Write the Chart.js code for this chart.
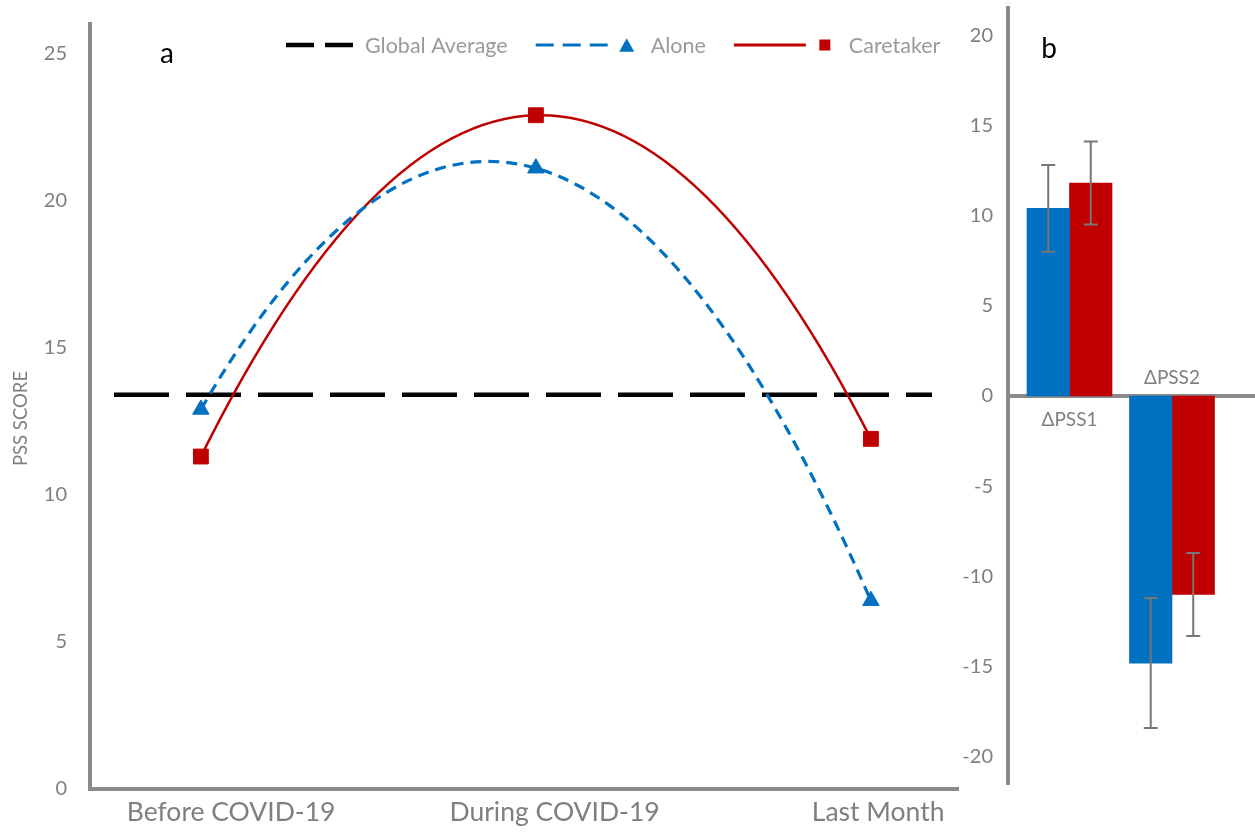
<!DOCTYPE html>
<html>
<head>
<meta charset="utf-8">
<script src="https://cdn.jsdelivr.net/npm/chart.js@4/dist/chart.umd.min.js"></script>
<style>
  html, body { margin: 0; padding: 0; background: #fff; }
  #wrap { position: relative; width: 1255px; height: 832px; overflow: hidden; background: #fff; }
  #leftBox { position: absolute; left: 0; top: 0; width: 960px; height: 832px; }
  #rightBox { position: absolute; left: 955px; top: 0; width: 300px; height: 832px; }
</style>
</head>
<body>
<div id="wrap">
  <div id="leftBox"><canvas id="left" width="960" height="832"></canvas></div>
  <div id="rightBox"><canvas id="right" width="300" height="832"></canvas></div>
</div>
<script>
// ---- Panel a: PSS score per period ----
const periods = ['Before COVID-19', 'During COVID-19', 'Last Month'];
const aloneScores = [12.9, 21.1, 6.4];
const caretakerScores = [11.3, 22.9, 11.9];
const globalAverage = 13.4;
const pssTicks = [0, 5, 10, 15, 20, 25];

// ---- Panel b: change in PSS score ----
const deltaLabels = ['ΔPSS1', 'ΔPSS2'];
const aloneDelta = [10.4, -14.8];
const aloneDeltaErr = [2.4, 3.6];
const caretakerDelta = [11.8, -11.0];
const caretakerDeltaErr = [2.3, 2.3];
const deltaTicks = [-20, -15, -10, -5, 0, 5, 10, 15, 20];

const FONT = 'Lato, "Liberation Sans", sans-serif';
const AXIS_GREY = '#8a8a8a';
const TEXT_GREY = '#7f7f7f';
const LEGEND_GREY = '#9a9a9a';
const BLUE = '#0070C0';
const RED = '#C00000';

const toPoints = vals => vals.map((v, i) => ({ x: i, y: v }));

function drawMarker(ctx, style, x, y, size, color) {
  ctx.save();
  ctx.fillStyle = color;
  ctx.beginPath();
  if (style === 'triangle') {
    const h = size * 0.9;
    ctx.moveTo(x, y - h / 2);
    ctx.lineTo(x + size / 2, y + h / 2);
    ctx.lineTo(x - size / 2, y + h / 2);
    ctx.closePath();
  } else {
    ctx.rect(x - size / 2, y - size / 2, size, size);
  }
  ctx.fill();
  ctx.restore();
}

// Smoothed curves: Catmull-Rom tangents inside, quadratic end conditions
const smoothCurves = {
  id: 'smoothCurves',
  beforeDatasetsDraw(chart) {
    chart.data.datasets.forEach((ds, di) => {
      const meta = chart.getDatasetMeta(di);
      if (meta.type !== 'line' || !meta.dataset) return;
      const pts = meta.data;
      const n = pts.length;
      if (n < 3) return;
      const m = [];
      for (let i = 1; i < n - 1; i++) {
        m[i] = { x: (pts[i + 1].x - pts[i - 1].x) / 2, y: (pts[i + 1].y - pts[i - 1].y) / 2 };
      }
      m[0] = { x: 2 * (pts[1].x - pts[0].x) - m[1].x, y: 2 * (pts[1].y - pts[0].y) - m[1].y };
      m[n - 1] = { x: 2 * (pts[n - 1].x - pts[n - 2].x) - m[n - 2].x, y: 2 * (pts[n - 1].y - pts[n - 2].y) - m[n - 2].y };
      pts.forEach((p, i) => {
        p.cp1x = p.x - m[i].x / 3; p.cp1y = p.y - m[i].y / 3;
        p.cp2x = p.x + m[i].x / 3; p.cp2y = p.y + m[i].y / 3;
      });
      meta.dataset._pointsUpdated = true;
      delete meta.dataset._path;
    });
  }
};

// Extra drawing for panel a: average line, legend, panel letter, axis title
const panelA = {
  id: 'panelA',
  beforeDatasetsDraw(chart) {
    const { ctx, chartArea, scales } = chart;
    const y = scales.y.getPixelForValue(globalAverage);
    ctx.save();
    ctx.strokeStyle = '#000';
    ctx.lineWidth = 4.5;
    ctx.setLineDash([55, 17]);
    ctx.beginPath();
    ctx.moveTo(chartArea.left + 24, y);
    ctx.lineTo(chartArea.right - 26, y);
    ctx.stroke();
    ctx.restore();
  },
  afterDraw(chart) {
    const { ctx, chartArea } = chart;
    ctx.save();
    // legend
    const items = [
      { label: 'Global Average', color: '#000', width: 4.5, dash: [28, 11], marker: null },
      { label: 'Alone', color: BLUE, width: 3, dash: [18, 9], marker: 'triangle', mSize: 15 },
      { label: 'Caretaker', color: RED, width: 3, dash: [], marker: 'rect', mSize: 11 }
    ];
    const ly = 45;
    let x = 286;
    ctx.font = '21.5px ' + FONT;
    ctx.textBaseline = 'middle';
    ctx.textAlign = 'left';
    items.forEach(it => {
      const len = it.marker ? 72 : 68;
      ctx.strokeStyle = it.color;
      ctx.lineWidth = it.width;
      ctx.setLineDash(it.dash);
      ctx.beginPath();
      ctx.moveTo(x, ly);
      ctx.lineTo(x + len, ly);
      ctx.stroke();
      ctx.setLineDash([]);
      let tx = x + len + 11;
      if (it.marker) {
        drawMarker(ctx, it.marker, x + len + 19, ly, it.mSize, it.color);
        tx = x + len + 43;
      }
      ctx.fillStyle = LEGEND_GREY;
      ctx.fillText(it.label, tx, ly + 1);
      x = tx + ctx.measureText(it.label).width + 28;
    });
    // panel letter
    ctx.fillStyle = '#000';
    ctx.font = '28px ' + FONT;
    ctx.textAlign = 'center';
    ctx.fillText('a', 167, 54);
    // axis title
    ctx.translate(21, (chartArea.top + chartArea.bottom) / 2 + 12);
    ctx.rotate(-Math.PI / 2);
    ctx.fillStyle = TEXT_GREY;
    ctx.font = '18.5px ' + FONT;
    ctx.fillText('PSS SCORE', 0, 0);
    ctx.restore();
  }
};

// Extra drawing for panel b: error bars, category labels, panel letter
const panelB = {
  id: 'panelB',
  afterDatasetsDraw(chart) {
    const { ctx, scales } = chart;
    ctx.save();
    ctx.strokeStyle = '#767676';
    ctx.lineWidth = 2;
    chart.data.datasets.forEach((ds, di) => {
      const meta = chart.getDatasetMeta(di);
      meta.data.forEach((bar, j) => {
        const v = ds.data[j].y;
        const e = ds.errors[j];
        const y1 = scales.y.getPixelForValue(v + e);
        const y2 = scales.y.getPixelForValue(v - e);
        ctx.beginPath();
        ctx.moveTo(bar.x, y1); ctx.lineTo(bar.x, y2);
        ctx.moveTo(bar.x - 7, y1); ctx.lineTo(bar.x + 7, y1);
        ctx.moveTo(bar.x - 7, y2); ctx.lineTo(bar.x + 7, y2);
        ctx.stroke();
      });
    });
    ctx.restore();
  },
  afterDraw(chart) {
    const { ctx, scales } = chart;
    const y0 = scales.y.getPixelForValue(0);
    ctx.save();
    ctx.font = '19px ' + FONT;
    ctx.fillStyle = TEXT_GREY;
    ctx.textAlign = 'center';
    ctx.textBaseline = 'middle';
    deltaLabels.forEach((lab, j) => {
      const positive = chart.data.datasets.every(ds => ds.data[j].y >= 0);
      const x = scales.x.getPixelForValue(j);
      ctx.fillText(lab, x, positive ? y0 + 24 : y0 - 18);
    });
    ctx.fillStyle = '#000';
    ctx.font = '28px ' + FONT;
    ctx.fillText('b', 94, 49);
    ctx.restore();
  }
};

function build() {
  new Chart(document.getElementById('left'), {
    type: 'line',
    data: {
      datasets: [
        {
          label: 'Alone', data: toPoints(aloneScores), xAxisID: 'x', yAxisID: 'y',
          borderColor: BLUE, backgroundColor: BLUE, borderWidth: 3.2, borderDash: [11, 7],
          pointStyle: 'triangle', pointRadius: 9.5, pointBackgroundColor: BLUE, pointBorderColor: BLUE,
          pointBorderWidth: 1, tension: 0.5, fill: false
        },
        {
          label: 'Caretaker', data: toPoints(caretakerScores), xAxisID: 'x', yAxisID: 'y',
          borderColor: RED, backgroundColor: RED, borderWidth: 2.5,
          pointStyle: 'rect', pointRadius: 10.5, pointBackgroundColor: RED, pointBorderColor: RED,
          pointBorderWidth: 1, tension: 0.5, fill: false
        }
      ]
    },
    options: {
      responsive: false,
      animation: false,
      devicePixelRatio: 1,
      layout: { autoPadding: false, padding: { top: 24, right: 2, left: 0, bottom: 0 } },
      plugins: { legend: { display: false }, tooltip: { enabled: false } },
      scales: {
        x: { type: 'linear', display: false, min: -0.331, max: 2.26 },
        xl: {
          type: 'linear', axis: 'x', position: 'bottom', min: -0.436, max: 2.247,
          grid: { display: false, drawTicks: false },
          border: { display: true, color: AXIS_GREY, width: 4 },
          afterBuildTicks: s => { s.ticks = periods.map((_, i) => ({ value: i })); },
          ticks: {
            callback: v => periods[v], font: { family: FONT, size: 26.5 }, color: TEXT_GREY,
            padding: 8, maxRotation: 0, autoSkip: false
          },
          afterFit: s => { s.height = 43; s.paddingLeft = 0; s.paddingRight = 0; }
        },
        y: {
          type: 'linear', min: 0, max: 26,
          afterBuildTicks: s => { s.ticks = pssTicks.map(v => ({ value: v })); },
          grid: { display: false, drawTicks: false },
          border: { display: true, color: AXIS_GREY, width: 4 },
          ticks: { font: { family: FONT, size: 20 }, color: TEXT_GREY, padding: 23 },
          afterFit: s => { s.width = 90; s.paddingTop = 0; s.paddingBottom = 0; }
        }
      }
    },
    plugins: [smoothCurves, panelA]
  });

  new Chart(document.getElementById('right'), {
    type: 'bar',
    data: {
      datasets: [
        { label: 'Alone', data: toPoints(aloneDelta), errors: aloneDeltaErr, backgroundColor: BLUE, barThickness: 42.5 },
        { label: 'Caretaker', data: toPoints(caretakerDelta), errors: caretakerDeltaErr, backgroundColor: RED, barThickness: 42.5 }
      ]
    },
    options: {
      responsive: false,
      animation: false,
      devicePixelRatio: 1,
      layout: { autoPadding: false, padding: { top: 8, right: 0, left: 0, bottom: 48 } },
      plugins: { legend: { display: false }, tooltip: { enabled: false } },
      scales: {
        x: {
          type: 'linear', min: -0.6, max: 1.81, offset: false, position: { y: 0 }, z: 1,
          grid: { display: false, drawTicks: false, offset: false },
          border: { display: true, color: AXIS_GREY, width: 4 },
          ticks: { display: false },
          afterFit: s => { s.height = 0; s.paddingLeft = 0; s.paddingRight = 0; }
        },
        y: {
          type: 'linear', min: -21.5, max: 21.5,
          afterBuildTicks: s => { s.ticks = deltaTicks.map(v => ({ value: v })); },
          grid: { display: false, drawTicks: false },
          border: { display: true, color: AXIS_GREY, width: 4 },
          ticks: { font: { family: FONT, size: 20 }, color: TEXT_GREY, padding: 15 },
          afterFit: s => { s.width = 53; s.paddingTop = 0; s.paddingBottom = 0; }
        }
      }
    },
    plugins: [panelB]
  });
}

if (document.fonts && document.fonts.load) {
  document.fonts.load('20px Lato').then(build, build);
} else {
  build();
}
</script>
</body>
</html>
